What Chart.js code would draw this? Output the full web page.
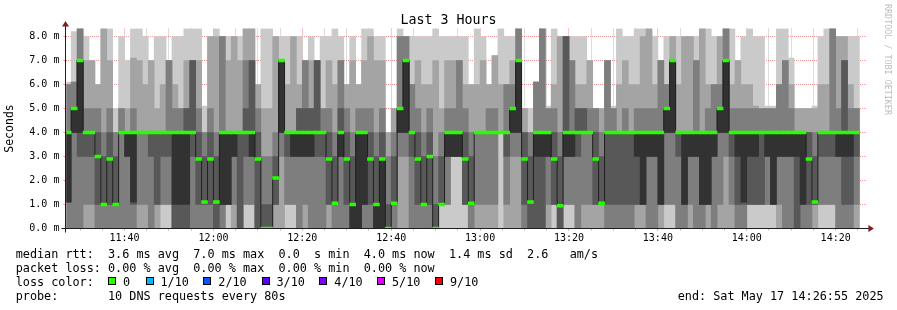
<!DOCTYPE html>
<html><head><meta charset="utf-8">
<script src="https://cdn.jsdelivr.net/npm/chart.js@4.4.1/dist/chart.umd.min.js"></script>
<style>
html,body{margin:0;padding:0;background:#fff;}
#wrap{position:relative;width:897px;height:310px;overflow:hidden;background:#fff;}
#c{position:absolute;left:0;top:0;}
.t{position:absolute;font-family:"DejaVu Sans Mono",monospace;font-size:11.8px;line-height:14px;white-space:pre;color:#000;}
.sq{position:absolute;width:6px;height:6px;border:1px solid #000;top:277px;}
#title{position:absolute;left:0;width:897px;top:12px;text-align:center;font-family:"DejaVu Sans Mono",monospace;font-size:13.3px;line-height:16px;color:#000;white-space:pre;}
#wm{position:absolute;left:883px;top:4px;writing-mode:vertical-rl;font-family:"DejaVu Sans Mono",monospace;font-size:8.4px;line-height:10px;color:#bdbdbd;white-space:pre;}
</style></head>
<body><div id="wrap">
<canvas id="c" width="897" height="310"></canvas>
<div id="title">Last 3 Hours</div>
<div id="wm">RRDTOOL / TOBI OETIKER</div>
<div id="legend"></div>
</div>
<script>
// ---- data ----
const STEP_SEC = 80;                 // one probe round every 80 s
const FIRST_STEP = "11:26:40";       // start of the first (partly visible) step
const X_START = "11:26:55";
const X_END = "14:26:55";
const Y_MAX = 8.3333;
const xTickLabels = ["11:40","12:00","12:20","12:40","13:00","13:20","13:40","14:00","14:20"];
const yTickValues = [0,0.5,1,1.5,2,2.5,3,3.5,4,4.5,5,5.5,6,6.5,7,7.5,8];

// median rtt (ms) of each 80 s step
const medianRtt = [
 4,5,7,4,4,3,1,2.9,1,
 4,4,4,4,4,4,4,4,4,4,4,4,4,
 2.9,1.1,2.9,1.1,
 4,4,4,4,4,4,
 2.9,0,0,2.1,7,
 4,4,4,4,4,4,4,
 2.9,1.05,4,2.9,1,
 4,4,
 2.9,1,2.9,0,1.05,5,7,
 4,2.9,1,3,0,1,
 4,4,4,
 2.9,1.05,
 4,4,4,4,4,4,
 5,7,2.9,1.1,
 4,4,4,
 2.9,0.95,
 4,4,4,4,4,
 2.9,1.05,
 4,4,4,4,4,4,4,4,4,4,
 5,7,
 4,4,4,4,4,4,4,
 5,7,
 4,4,4,4,4,4,4,4,4,4,4,4,4,
 2.9,1.1,
 4,4,4,4,4,4,4
];

// the 10 sorted rtt values (ms) of each step
const pings = [
 [0,0,0,1.1,1.1,4,4,6,6,6.1],
 [0,0,0,4,4,5,5,6.1,6.1,8.2],
 [0,0,0,3,4,7,7,8.33,8.33,8.33],
 [0,0,1,3,4,4,4,5,7,8],
 [0,0,1,3,4,4,4,5,7,7],
 [0,0,0,1,3,3,4,5,6,6],
 [0,0,0,1,1,1,3,4,8.33,8.33],
 [0,0,0,1,2.9,2.9,4,5,7,8.33],
 [0,0,0,1,1,1,3,4,4,5],
 [0,0,0,4,4,4,4,5,5,8],
 [0,0,0,3,3,4,4,4,5,7],
 [0,0,0,1,1.1,4,4,5,7.1,8.33],
 [0,0,1,4,4,4,4,4,7,8.33],
 [0,0,1,4,4,4,4,4,6,8],
 [0,0,0,3,4,4,4,4,7,7],
 [0,0,1,1,4,4,4,4,5,8],
 [0,1,1,3,4,4,4,4,6,8],
 [0,1,1,3,4,4,4,7,7,7],
 [0,0,0,0,1,4,4,5,6,8],
 [0,0,0,0,1,4,4,5,5,8],
 [0,0,0,0,1,4,5,5,7,8.33],
 [0,0,0,3,4,4,7,7,7,8.33],
 [0,0,0,1,2.9,2.9,4,5,7,8.33],
 [0,0,0,1,1.1,1.1,3,4,4,5.1],
 [0,0,0,1,2.9,2.9,4,5,8,8],
 [0,0,0,0,1.1,1.1,3,4,8,8.33],
 [0,0,0,1,1,4,4,8,8,8],
 [0,1,1,1,1,4,4,4,7,8],
 [0,0,1,3,3,4,4,4,8,8],
 [0,0,0,0,4,4,4,4,7,8],
 [0,1,1,3,4,4,5,7,8.33,8.33],
 [0,1,1,3,3,4,7,7,8.33,8.33],
 [0,0,0,0,2.9,2.9,4,5,6,6],
 [0,0,0,0,0,0,1,3,5,8.33],
 [0,0,0,0,0,0,1,3,5,8.33],
 [0,0,1,1,2.1,2.1,3,4,8,8],
 [0,0,3,4,4,7,7,7,7,8],
 [0,1,1,3,4,4,4,4,6,8],
 [0,1,1,3,3,4,4,4,8,8],
 [0,0,0,3,3,4,5,5,6,8],
 [0,0,1,3,3,4,5,7,7,7],
 [0,0,0,3,3,4,5,5,7,8],
 [0,0,0,3,4,4,7,7,7,7],
 [0,0,0,3,4,4,4,5,5,8],
 [0,0,1,1,2.9,2.9,4,5,7,8],
 [0,0,0,1,1.05,1.05,3,4,6,8.33],
 [0,0,0,3,3,4,5,7,7,8],
 [0,0,0,1,2.9,2.9,4,5,6,6],
 [0,0,0,0,0,1,3,4,7,8],
 [0,0,0,0,0,4,4,5,6,6],
 [0,0,0,1,1,4,4,5,7,8.33],
 [0,0,0,1,2.9,2.9,4,5,8,8.33],
 [0,0,0,0,0,1,3,4,7,8],
 [0,0,0,0,0,2.9,4,5,7,8],
 [0,0,0,0,0,0,1,3,4,4],
 [0,0,0,1,1.05,1.05,3,4,5,5],
 [0,0,3,4,4,5,5,8,8,8.33],
 [0,0,3,4,4,7,7,8,8,8],
 [0,0,0,3,4,4,4,6,6,8],
 [0,0,0,1,2.9,2.9,4,5,7,8],
 [0,0,0,1,1,1,3,4,6,8],
 [0,0,0,1,3,3,4,5,6,8],
 [0,0,0,0,0,0,1,3,7,8.33],
 [0,1,1,1,1,1,3,4,5,8],
 [0,1,1,3,3,4,4,5,7,8],
 [0,3,3,3,3,4,4,5,7,8],
 [0,3,3,3,3,4,4,7,7,8],
 [0,1,1,1,2.9,2.9,4,5,6,8],
 [0,0,0,1,1.05,1.05,3,4,6,6],
 [0,0,1,4,4,4,4,4,6,8.33],
 [0,0,1,4,4,4,4,4,7,8],
 [0,0,1,4,4,4,4,5,6,6],
 [0,0,1,4,4,4,4,5,7.2,7.2],
 [0,4,4,4,4,4,4,4,6,8.33],
 [0,0,1,3,4,4,4,6,6,8],
 [0,0,3,4,4,5,5,6,7,8],
 [0,0,3,4,4,7,7,8.33,8.33,8.33],
 [0,0,0,1,2.9,2.9,4,4,5,5],
 [0,0,0,0,1.1,1.1,3,4,4,5],
 [0,0,0,0,3,4,4,6.1,6.1,6.1],
 [0,0,0,0,3,4,4,8.33,8.33,8.33],
 [0,0,1,3,3,4,4,5,5,5.1],
 [0,1,1,1,2.9,2.9,4,5,6,8.33],
 [0,0,0,0,0.95,0.95,3,4,8,8],
 [0,1,1,3,3,4,8,8,8,8],
 [0,1,1,3,3,4,4,7,7,8],
 [0,0,0,3,4,4,5,5,6,8],
 [0,0,1,4,4,4,5,5,6,8],
 [0,0,1,4,4,4,4,5,7,7],
 [0,0,1,1,2.9,2.9,4,5,5,5],
 [0,0,1,1,1.05,1.05,3,4,5,5],
 [0,0,0,1,4,4,4,7,7,7],
 [0,0,0,1,4,4,4,5,5,5.1],
 [0,0,0,1,4,4,4,4,6,8.33],
 [0,0,0,1,4,4,4,5,7,8],
 [0,0,0,1,4,4,4,4,6,8],
 [0,0,1,1,3,4,4,5,6,8.33],
 [0,0,1,1,1,4,4,5,8,8.33],
 [0,0,0,3,3,4,4,5,8.33,8.33],
 [0,0,0,3,3,4,4,5,6,8],
 [0,0,1,1,1,4,4,7,7,7],
 [0,1,1,4,4,5,5,6,6,8],
 [0,1,1,4,4,7,7,7,8,8],
 [0,0,0,3,4,4,4,4,6,8],
 [0,0,0,1,1,4,4,4,8,8],
 [0,0,1,3,3,4,4,4,8,8],
 [0,0,0,3,3,4,4,7,7,8],
 [0,0,0,1,1,4,4,4,8.33,8.33],
 [0,0,1,1,1,4,4,5,6,8.33],
 [0,0,0,3,3,4,4,6,6,8],
 [0,0,1,4,4,5,5,6,8,8],
 [0,0,3,4,4,7,7,8.33,8.33,8.33],
 [0,0,1,3,4,4,4,5,6,8.33],
 [0,0,0,1,3,4,4,5,7,7],
 [0,0,0,1,1.1,4,4,5,6,8],
 [0,1,1,1,3,4,4,5,6,8.33],
 [0,1,1,1,3,4,4,5,5.1,8],
 [0,1,1,1,4,4,4,5,5,8],
 [0,1,1,3,3,4,4,5,5,5.1],
 [0,1,1,1,1,4,4,5,5,5.1],
 [0,0,1,3,3,4,4,6,6,8.33],
 [0,0,0,3,3,4,4,7,7,8.33],
 [0,0,0,3,3,4,4,5,6,7.1],
 [0,0,0,0,3,4,4,4,5,5],
 [0,0,0,1,1,4,4,4,5,5],
 [0,0,0,1,2.9,2.9,4,4,5,5],
 [0,0,1,1,1.1,1.1,3,4,5,5.1],
 [0,1,1,3,4,4,4,4,6,8],
 [0,1,1,3,4,4,4,4,6,8.33],
 [0,1,1,3,4,4,4,8.33,8.33,8.33],
 [0,0,0,3,3,4,4,5,8,8],
 [0,0,0,1,3,4,7,7,8,8],
 [0,0,0,1,3,4,4,5,6,8],
 [0,0,1,3,4,4,4,5,5,8]
];

const smokeColors = ["#cacaca","#a4a4a4","#7e7e7e","#585858","#323232"];
const lossItems = ["0","1/10","2/10","3/10","4/10","5/10","9/10"];
const lossColors = ["#26ff00","#00b8ff","#0059ff","#5e00ff","#7e00ff","#dd00ff","#ff0000"];
const legendLines = [
 "median rtt:  3.6 ms avg  7.0 ms max  0.0  s min  4.0 ms now  1.4 ms sd  2.6   am/s",
 "packet loss: 0.00 % avg  0.00 % max  0.00 % min  0.00 % now",
 "loss color:",
 "probe:       10 DNS requests every 80s"
];
const endText = "end: Sat May 17 14:26:55 2025";

// ---- helpers ----
const toMin = s => { const p = s.split(":").map(Number); return p[0]*60 + p[1] + (p[2]||0)/60; };
const fmtMin = v => { const h = Math.floor(v/60), m = Math.round(v - h*60); return h + ":" + String(m).padStart(2,"0"); };
const stepX = j => toMin(FIRST_STEP) + (j + 0.5) * STEP_SEC / 60;
const GREEN_HALF = 0.06;
const MAJOR = "rgba(222,79,79,0.6)";
const MINOR = "rgba(143,143,143,0.6)";

const xMajor = xTickLabels.map(toMin);
const xGrid = [];
for (let v = Math.ceil(toMin(X_START)/5)*5; v < toMin(X_END); v += 5) xGrid.push(v);

const datasets = [];
smokeColors.forEach((col, b) => {
  datasets.push({
    type: "bar", order: 20 - b, backgroundColor: col, borderWidth: 0,
    grouped: false, barPercentage: 1, categoryPercentage: 1,
    data: pings.map((p, j) => ({x: stepX(j), y: [p[b], p[9 - b]]}))
  });
});
datasets.push({
  type: "line", order: 2, borderColor: "#202020", borderWidth: 1, pointRadius: 0,
  stepped: "middle", data: medianRtt.map((m, j) => ({x: stepX(j), y: m}))
});
datasets.push({
  type: "bar", order: 1, backgroundColor: lossColors[0], borderWidth: 0,
  grouped: false, barPercentage: 1, categoryPercentage: 1,
  data: medianRtt.map((m, j) => ({x: stepX(j), y: [m - GREEN_HALF, m + GREEN_HALF]}))
});

const axisPlugin = {
  id: "rrdAxes",
  afterDraw(chart) {
    const {ctx, chartArea: a} = chart;
    const x0 = Math.round(a.left) + 0.5 - 1, y0 = Math.round(a.bottom) + 0.5 - 1;
    ctx.save();
    ctx.strokeStyle = "#1f1f1f"; ctx.lineWidth = 1;
    ctx.beginPath();
    ctx.moveTo(x0 - 4, y0); ctx.lineTo(a.right + 4, y0);
    ctx.moveTo(x0, y0 + 4); ctx.lineTo(x0, a.top - 4);
    ctx.stroke();
    ctx.fillStyle = "#801f1f";
    ctx.beginPath();
    ctx.moveTo(a.right + 2, y0 - 3.5); ctx.lineTo(a.right + 2, y0 + 3.5); ctx.lineTo(a.right + 7.5, y0); ctx.closePath(); ctx.fill();
    ctx.beginPath();
    ctx.moveTo(x0 - 3.5, a.top - 2); ctx.lineTo(x0 + 3.5, a.top - 2); ctx.lineTo(x0, a.top - 7.5); ctx.closePath(); ctx.fill();
    ctx.restore();
  }
};

new Chart(document.getElementById("c"), {
  type: "bar",
  data: {datasets},
  plugins: [axisPlugin],
  options: {
    responsive: false, animation: false, devicePixelRatio: 1,
    layout: {padding: {left: 0, right: 30.6, top: 28.5, bottom: 0}},
    plugins: {legend: {display: false}, tooltip: {enabled: false}, title: {display: false}},
    scales: {
      x: {
        type: "linear", min: toMin(X_START), max: toMin(X_END), offset: false, z: 1,
        afterBuildTicks: s => { s.ticks = xGrid.map(v => ({value: v})); },
        afterFit: s => { s.height = 81.5; },
        grid: {offset: false, lineWidth: 1, drawTicks: true, tickLength: 2,
               color: c => (c.tick && xMajor.includes(c.tick.value)) ? MAJOR : MINOR},
        border: {display: false, dash: [1, 1]},
        ticks: {autoSkip: false, maxRotation: 0, padding: 2, color: "#000",
                font: {family: "DejaVu Sans Mono", size: 10},
                callback: v => xMajor.includes(v) ? fmtMin(v) : ""}
      },
      y: {
        min: 0, max: Y_MAX, z: 1,
        afterBuildTicks: s => { s.ticks = yTickValues.map(v => ({value: v})); },
        afterFit: s => { s.width = 66.4; },
        grid: {lineWidth: 1, drawTicks: true, tickLength: 3,
               color: c => (c.tick && Number.isInteger(c.tick.value)) ? MAJOR : MINOR},
        border: {display: false, dash: [1, 1]},
        title: {display: true, text: "Seconds", color: "#000", padding: {top: 3.5, bottom: 0},
                font: {family: "DejaVu Sans Mono", size: 11.5}},
        ticks: {padding: 4, color: "#000", font: {family: "DejaVu Sans Mono", size: 10},
                callback: v => Number.isInteger(v) ? v.toFixed(1) + " m" : ""}
      }
    }
  }
});

// ---- text legend (real text) ----
const lg = document.getElementById("legend");
const tops = [247.2, 261.2, 275.2, 289.2];
legendLines.forEach((s, i) => {
  const d = document.createElement("div"); d.className = "t";
  d.style.left = "15.7px"; d.style.top = tops[i] + "px"; d.textContent = s; lg.appendChild(d);
});
const sqX = [108, 145.5, 203.3, 261.5, 319.3, 377, 435];
lossItems.forEach((lab, i) => {
  const q = document.createElement("div"); q.className = "sq";
  q.style.left = sqX[i] + "px"; q.style.background = lossColors[i]; lg.appendChild(q);
  const d = document.createElement("div"); d.className = "t";
  d.style.left = (sqX[i] + 15) + "px"; d.style.top = tops[2] + "px"; d.textContent = lab; lg.appendChild(d);
});
const e = document.createElement("div"); e.className = "t";
e.style.left = "677.7px"; e.style.top = tops[3] + "px"; e.textContent = endText; lg.appendChild(e);
</script>
</body></html>
